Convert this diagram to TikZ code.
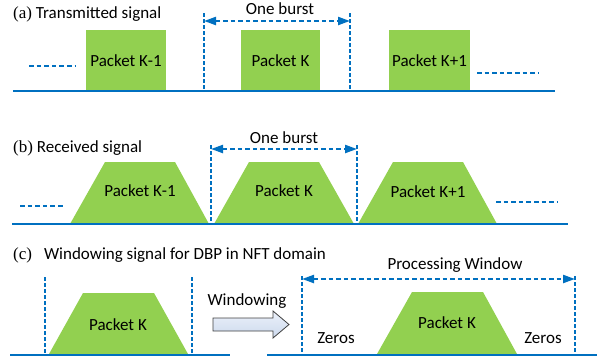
\documentclass[tikz,border=0pt]{standalone}
\usepackage{fontspec}
\setmainfont{Carlito}
\newfontfamily\serifpart{Liberation Serif}
\usetikzlibrary{arrows.meta}
\definecolor{pgreen}{RGB}{146,208,80}
\definecolor{lblue}{RGB}{0,112,192}
\definecolor{arrtop}{RGB}{236,241,250}
\definecolor{arrbot}{RGB}{204,217,237}
\begin{document}
\begin{tikzpicture}[x=1pt,y=-1pt,
  baseln/.style={draw=lblue,line width=2.6pt},
  dots/.style={draw=lblue,line width=2.3pt,dash pattern=on 4.6pt off 3pt},
  vdots/.style={draw=lblue,line width=2.2pt,dash pattern=on 3.5pt off 2.5pt},
  burst/.style={draw=lblue,line width=2.2pt,dash pattern=on 4.6pt off 3pt,
    {Triangle[length=12pt,width=8pt]}-{Triangle[length=12pt,width=8pt]}},
  lbl/.style={font=\fontsize{17}{20}\selectfont,anchor=base,inner sep=0pt,text=black},
  ttl/.style={lbl,anchor=base west},
  pkt/.style={fill=pgreen,draw=none,inner sep=0pt},
  blockarr/.style={draw=black!75,line width=0.8pt,top color=arrtop,bottom color=arrbot},
]
\useasboundingbox (0,0) rectangle (601,360);

% ---------- (a) ----------
\node[ttl] (ta) at (13,18) {{\serifpart (a)} Transmitted signal};
\node[pkt,minimum width=80pt,minimum height=61pt] (pa1) at (126,60.5) {};
\node[pkt,minimum width=79pt,minimum height=61pt] (pa2) at (280.5,60.5) {};
\node[pkt,minimum width=81pt,minimum height=61pt] (pa3) at (429.5,60.5) {};
\node[lbl] (la1) at (126,66) {Packet K-1};
\node[lbl] (la2) at (280.5,66) {Packet K};
\node[lbl] (la3) at (429.5,66) {Packet K+1};
\draw[baseln] (13,91) -- (555,91);
\draw[dots] (29,66) -- (75,66);
\draw[dots] (477,73) -- (539,73);
\coordinate (a1t) at (204,13); \coordinate (a1b) at (204,91);
\coordinate (a2t) at (350,13); \coordinate (a2b) at (350,91);
\draw[vdots] (a1t) -- (a1b);
\draw[vdots] (a2t) -- (a2b);
\coordinate (aar1) at (204,21); \coordinate (aar2) at (350,21);
\draw[burst] (aar1) -- (aar2);
\node[lbl] (oba) at (280,14) {One burst};

% ---------- (b) ----------
\node[ttl] (tb) at (13,152) {{\serifpart (b)} Received signal};
\fill[pgreen] (70,224) -- (105,162) -- (175,162) -- (209,224) -- cycle;
\fill[pgreen] (214,224) -- (249,162) -- (319,162) -- (354,224) -- cycle;
\fill[pgreen] (358,224) -- (393,162) -- (463,162) -- (497,224) -- cycle;
\node[lbl] (lb1) at (140,196) {Packet K-1};
\node[lbl] (lb2) at (284,196) {Packet K};
\node[lbl] (lb3) at (428,197) {Packet K+1};
\draw[baseln] (12,224) -- (568,224);
\draw[dots] (20,206) -- (63,206);
\draw[dots] (496,202) -- (558,202);
\coordinate (b1t) at (211,145); \coordinate (b1b) at (211,224);
\coordinate (b2t) at (357,145); \coordinate (b2b) at (357,224);
\draw[vdots] (b1t) -- (b1b);
\draw[vdots] (b2t) -- (b2b);
\coordinate (bar1) at (211,149); \coordinate (bar2) at (357,149);
\draw[burst] (bar1) -- (bar2);
\node[lbl] (obb) at (284,143) {One burst};

% ---------- (c) ----------
\node[ttl] (tc) at (13,259) {{\serifpart (c)}\hspace{12pt}Windowing signal for DBP in NFT domain};
\fill[pgreen] (49,354) -- (83,293) -- (154,293) -- (188,354) -- cycle;
\node[lbl] (lc1) at (118,330) {Packet K};
\draw[baseln] (10,355) -- (230,355);
\coordinate (c1t) at (45,277); \coordinate (c1b) at (45,355);
\coordinate (c2t) at (192,277); \coordinate (c2b) at (192,355);
\draw[vdots] (c1t) -- (c1b);
\draw[vdots] (c2t) -- (c2b);

\node[lbl] (win) at (247,305) {Windowing};
\draw[blockarr] (213,318) -- (273,318) -- (273,311) -- (289,324.5) -- (273,338) -- (273,331) -- (213,331) -- cycle;

\fill[pgreen] (377,354) -- (412,292) -- (483,292) -- (517,354) -- cycle;
\node[lbl] (lc2) at (447,328) {Packet K};
\node[lbl] (z1) at (336,343) {Zeros};
\node[lbl] (z2) at (543,343) {Zeros};
\draw[baseln] (267,355) -- (597,355);
\coordinate (c3t) at (302,276); \coordinate (c3b) at (302,355);
\coordinate (c4t) at (575,276); \coordinate (c4b) at (575,355);
\draw[vdots] (c3t) -- (c3b);
\draw[vdots] (c4t) -- (c4b);
\coordinate (car1) at (302,279); \coordinate (car2) at (575,279);
\draw[burst] (car1) -- (car2);
\node[lbl] (pw) at (455,269) {Processing Window};
\end{tikzpicture}
\end{document}
